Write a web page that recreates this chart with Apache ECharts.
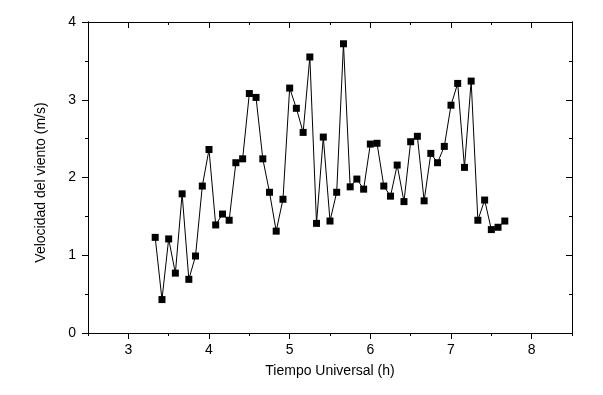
<!DOCTYPE html>
<html>
<head>
<meta charset="utf-8">
<script src="https://cdn.jsdelivr.net/npm/echarts@6/dist/echarts.min.js"></script>
<style>
html,body{margin:0;padding:0;background:#fff;}
#chart{width:603px;height:395px;}
</style>
</head>
<body>
<div id="chart"></div>
<script>
var timeH = [3.333, 3.417, 3.5, 3.583, 3.667, 3.75, 3.833, 3.917, 4.0, 4.083, 4.167, 4.25, 4.333, 4.417, 4.5, 4.583, 4.667, 4.75, 4.833, 4.917, 5.0, 5.083, 5.167, 5.25, 5.333, 5.417, 5.5, 5.583, 5.667, 5.75, 5.833, 5.917, 6.0, 6.083, 6.167, 6.25, 6.333, 6.417, 6.5, 6.583, 6.667, 6.75, 6.833, 6.917, 7.0, 7.083, 7.167, 7.25, 7.333, 7.417, 7.5, 7.583, 7.667];
var windSpeed = [1.23, 0.43, 1.21, 0.77, 1.79, 0.69, 0.99, 1.89, 2.36, 1.39, 1.53, 1.45, 2.19, 2.24, 3.08, 3.03, 2.24, 1.81, 1.31, 1.72, 3.15, 2.89, 2.58, 3.55, 1.41, 2.52, 1.44, 1.81, 3.72, 1.88, 1.98, 1.85, 2.43, 2.44, 1.89, 1.76, 2.16, 1.69, 2.46, 2.53, 1.70, 2.31, 2.19, 2.40, 2.93, 3.21, 2.13, 3.24, 1.45, 1.71, 1.33, 1.36, 1.44];
var xTicks = [3, 4, 5, 6, 7, 8];
var xMinorTicks = [2.5, 3.5, 4.5, 5.5, 6.5, 7.5, 8.5];
var yTicks = [0, 1, 2, 3, 4];
var yMinorTicks = [0.5, 1.5, 2.5, 3.5];
var xTitle = 'Tiempo Universal (h)';
var yTitle = 'Velocidad del viento (m/s)';

var FONT = 'Liberation Sans, Arial, sans-serif';
var lineStyle = {color: '#000', width: 1};

function xAx(pos, ticks, len, inside, labels, name) {
  return {
    type: 'value', gridIndex: 0, position: pos, min: 2.5, max: 8.5,
    axisLine: {show: true, onZero: false, lineStyle: lineStyle},
    axisTick: {show: true, customValues: ticks, length: len, inside: inside, lineStyle: lineStyle},
    axisLabel: {show: labels, customValues: ticks, margin: 10, color: '#000', fontFamily: FONT, fontSize: 14},
    splitLine: {show: false},
    name: name || '', nameLocation: 'middle', nameGap: 31,
    nameTextStyle: {color: '#000', fontFamily: FONT, fontSize: 14}
  };
}
function yAx(pos, ticks, len, inside, labels, name) {
  return {
    type: 'value', gridIndex: 0, position: pos, min: 0, max: 4,
    axisLine: {show: true, onZero: false, lineStyle: lineStyle},
    axisTick: {show: true, customValues: ticks, length: len, inside: inside, lineStyle: lineStyle},
    axisLabel: {show: labels, customValues: ticks, margin: 12, color: '#000', fontFamily: FONT, fontSize: 14},
    splitLine: {show: false},
    name: name || '', nameLocation: 'middle', nameGap: 40,
    nameTextStyle: {color: '#000', fontFamily: FONT, fontSize: 14, padding: [0, 10, 0, 0]}
  };
}

var chart = echarts.init(document.getElementById('chart'), null, {renderer: 'canvas'});
chart.setOption({
  animation: false,
  backgroundColor: '#fff',
  grid: {left: 88, top: 22, right: 31, bottom: 62, containLabel: false},
  xAxis: [
    xAx('bottom', xTicks, 6, false, true, xTitle),
    xAx('bottom', xMinorTicks, 3, false, false),
    xAx('top', xTicks, 6, true, false),
    xAx('top', xMinorTicks, 3, true, false)
  ],
  yAxis: [
    yAx('left', yTicks, 6, false, true, yTitle),
    yAx('left', yMinorTicks, 3, false, false),
    yAx('right', yTicks, 6, true, false),
    yAx('right', yMinorTicks, 3, true, false)
  ],
  series: [{
    type: 'line',
    xAxisIndex: 0, yAxisIndex: 0,
    data: timeH.map(function (t, i) { return [t, windSpeed[i]]; }),
    symbol: 'rect', symbolSize: 7,
    showAllSymbol: true,
    itemStyle: {color: '#000'},
    lineStyle: {color: '#000', width: 1}
  }]
});
</script>
</body>
</html>
